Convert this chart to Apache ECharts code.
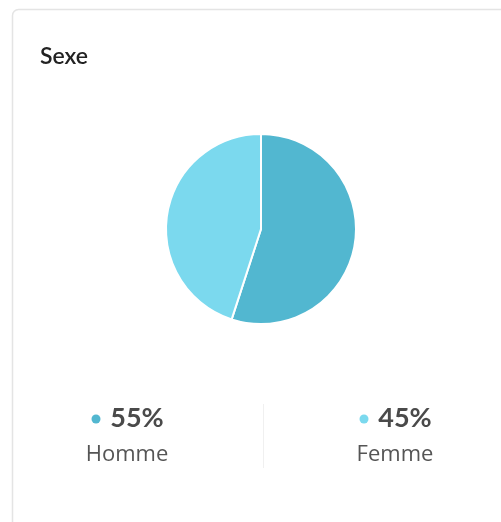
<!DOCTYPE html>
<html>
<head>
<meta charset="utf-8">
<script src="https://cdn.jsdelivr.net/npm/echarts@6/dist/echarts.min.js"></script>
<style>html,body{margin:0;padding:0;background:#fff;}#c{width:501px;height:522px;}</style>
</head>
<body>
<div id="c"></div>
<script>
var title = 'Sexe';
var categories = ['Homme', 'Femme'];
var values = [55, 45];
var colors = ['#52b7d0', '#7bd9ee'];

var chart = echarts.init(document.getElementById('c'), null, {renderer: 'canvas'});
var legendX = [127, 395];
var graphics = [
  {type: 'rect', shape: {x: 12.5, y: 9.5, width: 520, height: 540, r: 6}, style: {fill: '#fff', stroke: '#e4e4e4', lineWidth: 1.5}, z: -10},
  {type: 'text', x: 40, y: 57, style: {text: title, font: '600 23px Lato', fill: '#222', verticalAlign: 'middle'}},
  {type: 'line', shape: {x1: 263.5, y1: 404, x2: 263.5, y2: 468}, style: {stroke: '#f0f0f0', lineWidth: 1}}
];
categories.forEach(function (c, i) {
  var cx = legendX[i];
  graphics.push({type: 'circle', shape: {cx: cx - 31, cy: 419, r: 4.5}, style: {fill: colors[i]}});
  graphics.push({type: 'text', x: cx + 10, y: 418, style: {text: values[i] + '%', font: 'bold 27px Lato', fill: '#4a4a4a', align: 'center', verticalAlign: 'middle'}});
  graphics.push({type: 'text', x: cx, y: 455, style: {text: c, font: '22px "Open Sans"', fill: '#555', align: 'center', verticalAlign: 'middle'}});
});

chart.setOption({
  animation: false,
  graphic: graphics,
  series: [{
    type: 'pie',
    center: [261, 229],
    radius: [0, 95],
    startAngle: 90,
    clockwise: true,
    label: {show: false},
    labelLine: {show: false},
    itemStyle: {borderColor: '#fff', borderWidth: 2},
    data: categories.map(function (c, i) {
      return {name: c, value: values[i], itemStyle: {color: colors[i]}};
    })
  }]
});
</script>
</body>
</html>
